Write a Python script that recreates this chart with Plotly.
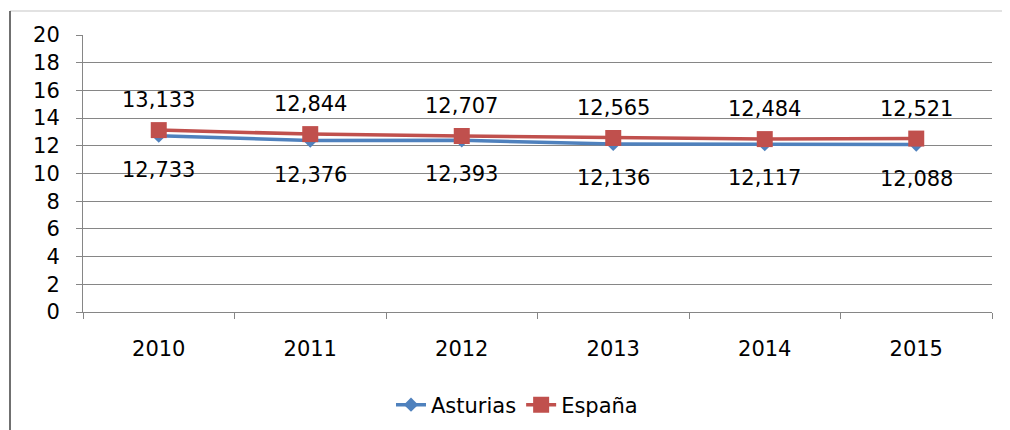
import plotly.graph_objects as go

years = [2010, 2011, 2012, 2013, 2014, 2015]
year_labels = ["2010", "2011", "2012", "2013", "2014", "2015"]
asturias = [12.733, 12.376, 12.393, 12.136, 12.117, 12.088]
espana = [13.133, 12.844, 12.707, 12.565, 12.484, 12.521]
y_ticks = [0, 2, 4, 6, 8, 10, 12, 14, 16, 18, 20]

# the page body adds an 8px offset; target plot area is x 83..992, y 35..312 in the window
OFF = 8
W, H = 1010 - OFF, 430 - OFF
ml, mr, mt, mb = 83 - OFF, W - (992 - OFF), 35 - OFF, H - (312 - OFF)

def fmt(v):
    return f"{v:.3f}".replace(".", ",")

fig = go.Figure()
fig.add_trace(go.Scatter(
    x=years, y=asturias, name="Asturias", mode="lines+markers",
    line=dict(color="#4F81BD", width=3.5),
    marker=dict(symbol="diamond", size=11, color="#4F81BD"),
))
fig.add_trace(go.Scatter(
    x=years, y=espana, name="España", mode="lines+markers",
    line=dict(color="#C0504D", width=3.5),
    marker=dict(symbol="square", size=16, color="#C0504D"),
))

font = dict(family="DejaVu Sans, Verdana, sans-serif", size=21, color="#000000")
for x, v in zip(years, espana):
    fig.add_annotation(x=x, y=v, text=fmt(v), showarrow=False, yshift=30, font=font)
for x, v in zip(years, asturias):
    fig.add_annotation(x=x, y=v, text=fmt(v), showarrow=False, yshift=-34, font=font)

# outer frame (left and top border lines)
pw = W - ml - mr
ph = H - mt - mb
x0 = (10 - OFF - ml) / pw
x1 = (1007 - OFF - ml) / pw
ytop = 1 + (mt - (11 - OFF)) / ph
ybot = -(H - mt) / ph
fig.add_shape(type="line", xref="paper", yref="paper", x0=x0, x1=x1, y0=ytop, y1=ytop,
              line=dict(color="#D9D9D9", width=1.5))
fig.add_shape(type="line", xref="paper", yref="paper", x0=x0, x1=x0, y0=ytop, y1=ybot,
              line=dict(color="#404040", width=1.5))

fig.update_layout(
    width=W, height=H,
    margin=dict(l=ml, r=mr, t=mt, b=mb, autoexpand=False),
    paper_bgcolor="white", plot_bgcolor="white",
    font=font,
    showlegend=True,
    legend=dict(orientation="h", xref="container", x=(517 - OFF) / W, xanchor="center",
                yref="container", y=1 - (405 - OFF) / H, yanchor="middle",
                font=font, traceorder="normal"),
    xaxis=dict(range=[years[0] - 0.5, years[-1] + 0.5], tickvals=years, ticktext=year_labels,
               ticks="", showline=True, linecolor="#868686", linewidth=1,
               showgrid=False, zeroline=False, ticklabelstandoff=18, tickfont=font,
               minor=dict(tick0=years[0] - 0.5, dtick=1, ticks="outside", ticklen=6,
                          tickcolor="#868686", showgrid=False)),
    yaxis=dict(range=[0, 20], tickvals=y_ticks, ticks="outside", ticklen=6,
               tickcolor="#868686", showline=True, linecolor="#868686", linewidth=1,
               showgrid=True, gridcolor="#868686", gridwidth=1, zeroline=False,
               ticklabelstandoff=12, tickfont=font),
)

fig.write_html("out.html", config={"displayModeBar": False})
